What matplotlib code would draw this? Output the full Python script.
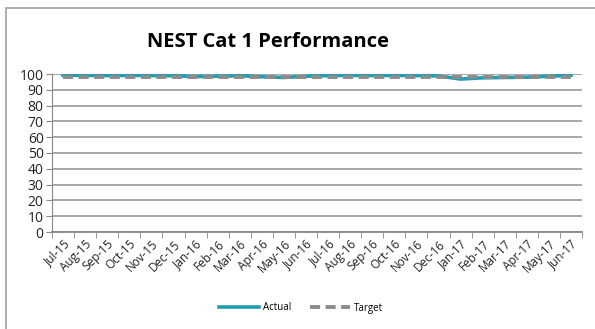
import matplotlib.pyplot as plt
from matplotlib.patches import Rectangle

# monthly performance, Jul-15 .. Jun-17
months = ['Jul-15', 'Aug-15', 'Sep-15', 'Oct-15', 'Nov-15', 'Dec-15',
          'Jan-16', 'Feb-16', 'Mar-16', 'Apr-16', 'May-16', 'Jun-16',
          'Jul-16', 'Aug-16', 'Sep-16', 'Oct-16', 'Nov-16', 'Dec-16',
          'Jan-17', 'Feb-17', 'Mar-17', 'Apr-17', 'May-17', 'Jun-17']
actual = [99.2, 99.1, 99.0, 99.1, 99.0, 98.9,
          98.4, 98.6, 98.9, 98.3, 97.8, 98.6,
          99.0, 99.1, 99.0, 99.1, 99.0, 98.8,
          96.8, 97.6, 97.8, 98.0, 98.6, 99.2]
target = [98] * len(months)

fig = plt.figure(figsize=(5.95, 3.29), dpi=100)
plt.rcParams['font.family'] = ['Open Sans', 'DejaVu Sans']

# outer chart frame
fig.patches.append(Rectangle((6 / 595, -0.05), 1.0, 1.05 - 8 / 329, transform=fig.transFigure,
                             fill=False, edgecolor='#a0a0a0', linewidth=1.2))

ax = fig.add_axes([52 / 595, 1 - 232 / 329, 530 / 595, 158 / 329])
x = range(len(months))
ax.plot(x, actual, color='#1f9db2', linewidth=2.6, label='Actual', zorder=3)
ax.plot(x, target, color='#8c8c8c', linewidth=2.8, linestyle=(0, (2.6, 1.4)), label='Target', zorder=4)

ax.set_xlim(-0.5, len(months) - 0.5)
ax.set_ylim(0, 100)
ax.set_yticks(range(0, 101, 10))
ax.set_xticks(x)
ax.set_xticklabels(months, rotation=45, ha='right', rotation_mode='anchor', fontsize=8.5,
                   color='#222222')
ax.set_xticks([i - 0.5 for i in range(len(months) + 1)], minor=True)
ax.tick_params(axis='x', which='major', length=0, pad=4)
ax.tick_params(axis='x', which='minor', length=4, color='#888888', direction='out')
ax.tick_params(axis='y', length=4, color='#888888', labelsize=10, pad=2, labelcolor='#222222')
ax.grid(axis='y', color='#a0a0a0', linewidth=1.3)
ax.set_axisbelow(True)
for side in ['top', 'right']:
    ax.spines[side].set_visible(False)
ax.spines['left'].set_color('#888888')
ax.spines['bottom'].set_color('#888888')
ax.spines['bottom'].set_linewidth(1.3)

fig.text(268 / 595, 1 - 42 / 329, 'NEST Cat 1 Performance', ha='center', va='center',
         fontsize=14.5, fontweight='bold')

fig.legend(loc='center', bbox_to_anchor=(301 / 595, 1 - 308 / 329), ncol=2, frameon=False,
           fontsize=7, handlelength=4.1, columnspacing=2.0, handletextpad=0.4)

fig.savefig('out.png', dpi=100)
